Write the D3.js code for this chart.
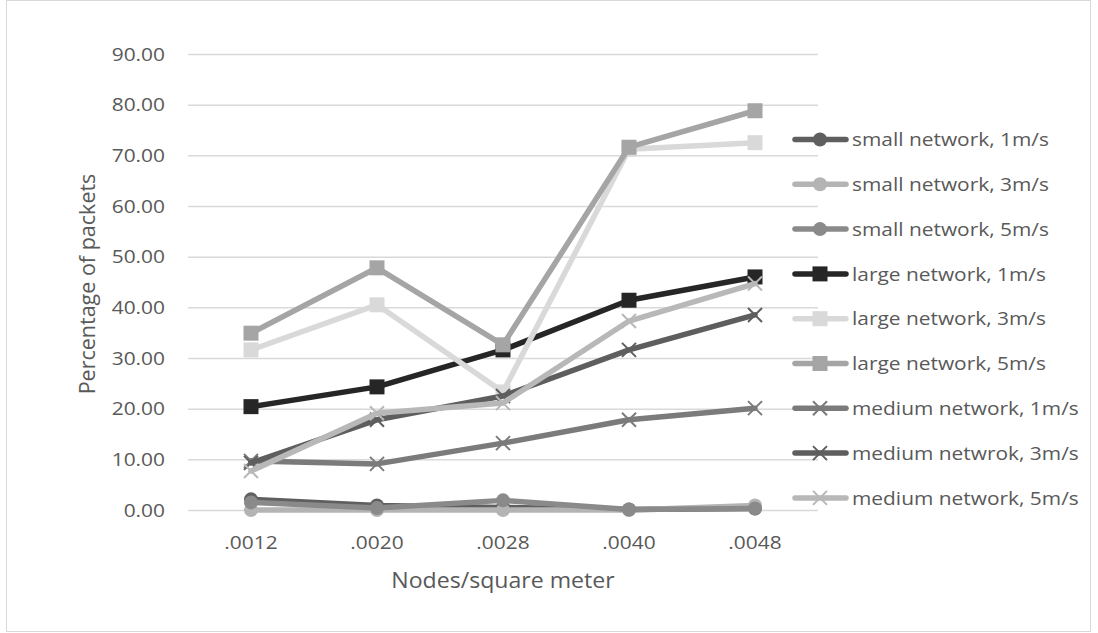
<!DOCTYPE html>
<html>
<head>
<meta charset="utf-8">
<script src="https://cdn.jsdelivr.net/npm/d3@7"></script>
<style>
  html, body { margin: 0; padding: 0; background: #ffffff; }
  svg { display: block; }
  text { font-family: "Open Sans", "Noto Sans", sans-serif; fill: #595959; }
</style>
</head>
<body>
<svg id="chart" width="1098" height="633"></svg>
<script>
// Node density categories on the x axis
const densities = [".0012", ".0020", ".0028", ".0040", ".0048"];

// Percentage of packets per series
const smallNet1 = [2.1, 0.9, 0.5, 0.1, 0.3];
const smallNet3 = [0.0, 0.0, 0.0, 0.0, 0.9];
const smallNet5 = [1.5, 0.4, 1.9, 0.1, 0.3];
const largeNet1 = [20.4, 24.3, 31.6, 41.4, 46.0];
const largeNet3 = [31.6, 40.5, 23.3, 71.2, 72.5];
const largeNet5 = [34.9, 47.8, 32.6, 71.6, 78.8];
const mediumNet1 = [9.7, 9.1, 13.2, 17.8, 20.1];
const mediumNet3 = [9.3, 17.8, 22.5, 31.6, 38.5];
const mediumNet5 = [7.7, 19.1, 21.1, 37.3, 44.7];

const seriesNames = [
  "small network, 1m/s", "small network, 3m/s", "small network, 5m/s",
  "large network, 1m/s", "large network, 3m/s", "large network, 5m/s",
  "medium network, 1m/s", "medium netwrok, 3m/s", "medium network, 5m/s"
];
const seriesValues = [smallNet1, smallNet3, smallNet5, largeNet1, largeNet3, largeNet5,
                      mediumNet1, mediumNet3, mediumNet5];
const seriesColors = ["#5f5f5f", "#b4b4b4", "#8a8a8a", "#262626", "#d9d9d9", "#a5a5a5",
                      "#7b7b7b", "#5e5e5e", "#b8b8b8"];
const seriesMarkers = ["circle", "circle", "circle", "square", "square", "square", "x", "x", "x"];

const yTicks = [0, 10, 20, 30, 40, 50, 60, 70, 80, 90];

const series = seriesNames.map((name, i) => ({
  name, values: seriesValues[i], color: seriesColors[i], marker: seriesMarkers[i]
}));

// The lettering is slightly wide; stretch horizontal text a little
const stretch = 1.1;

const svg = d3.select("#chart");

// Outer chart frame
svg.append("rect")
  .attr("x", 6.5).attr("y", 0.5)
  .attr("width", 1084).attr("height", 631)
  .attr("fill", "#ffffff").attr("stroke", "#d9d9d9").attr("stroke-width", 1);

const x = d3.scaleBand().domain(densities).range([188, 818]);
const y = d3.scaleLinear().domain([0, 90]).range([510, 54]);
const cx = d => x(d) + x.bandwidth() / 2;

// Horizontal gridlines and y tick labels
const yAxis = d3.axisLeft(y).tickValues(yTicks).tickSize(-(818 - 188))
  .tickPadding(23).tickFormat(d3.format(".2f"));
const gy = svg.append("g").attr("transform", "translate(188,0)").call(yAxis);
gy.select(".domain").remove();
gy.selectAll(".tick line").attr("stroke", "#d9d9d9").attr("stroke-width", 1.5);
gy.selectAll(".tick text")
  .style("font-size", "19px").attr("fill", "#595959")
  .attr("x", 0)
  .attr("transform", `translate(-23,0) scale(${stretch},1)`);

// x tick labels
const xAxis = d3.axisBottom(x).tickSize(0).tickPadding(0);
const gx = svg.append("g").attr("transform", "translate(0,510)").call(xAxis);
gx.select(".domain").remove();
gx.selectAll(".tick text")
  .style("font-size", "19px").attr("fill", "#595959")
  .attr("dy", null).attr("y", 0)
  .attr("transform", `translate(0,39) scale(${stretch},1)`);

// Axis titles
svg.append("text")
  .attr("transform", `translate(503,588) scale(${stretch},1)`)
  .attr("text-anchor", "middle")
  .style("font-size", "21px")
  .text("Nodes/square meter");

svg.append("text")
  .attr("transform", "translate(95,284) rotate(-90)")
  .attr("text-anchor", "middle")
  .style("font-size", "21.5px")
  .text("Percentage of packets");

// Marker drawing helper
function drawMarker(g, type, color, px, py) {
  if (type === "circle") {
    g.append("circle").attr("cx", px).attr("cy", py).attr("r", 7).attr("fill", color);
  } else if (type === "square") {
    g.append("rect").attr("x", px - 7.5).attr("y", py - 7.5)
      .attr("width", 15).attr("height", 15).attr("fill", color);
  } else {
    const s = 7;
    g.append("path")
      .attr("d", `M${px - s},${py - s}L${px + s},${py + s}M${px - s},${py + s}L${px + s},${py - s}`)
      .attr("stroke", color).attr("stroke-width", 2).attr("fill", "none");
  }
}

const line = d3.line()
  .x((d, i) => cx(densities[i]))
  .y(d => y(d));

// Series lines with markers
series.forEach(s => {
  const g = svg.append("g");
  g.append("path")
    .attr("d", line(s.values))
    .attr("fill", "none")
    .attr("stroke", s.color)
    .attr("stroke-width", 5.5)
    .attr("stroke-linejoin", "round")
    .attr("stroke-linecap", "round");
  s.values.forEach((v, i) => drawMarker(g, s.marker, s.color, cx(densities[i]), y(v)));
});

// Legend
const legend = svg.append("g");
series.forEach((s, i) => {
  const ly = 139.5 + i * 44.8;
  const g = legend.append("g");
  g.append("line")
    .attr("x1", 795).attr("x2", 846).attr("y1", ly).attr("y2", ly)
    .attr("stroke", s.color).attr("stroke-width", 5.5).attr("stroke-linecap", "round");
  drawMarker(g, s.marker, s.color, 820, ly);
  g.append("text")
    .attr("transform", `translate(852,${ly}) scale(${stretch},1)`)
    .attr("dy", "0.35em")
    .style("font-size", "19px")
    .text(s.name);
});
</script>
</body>
</html>
